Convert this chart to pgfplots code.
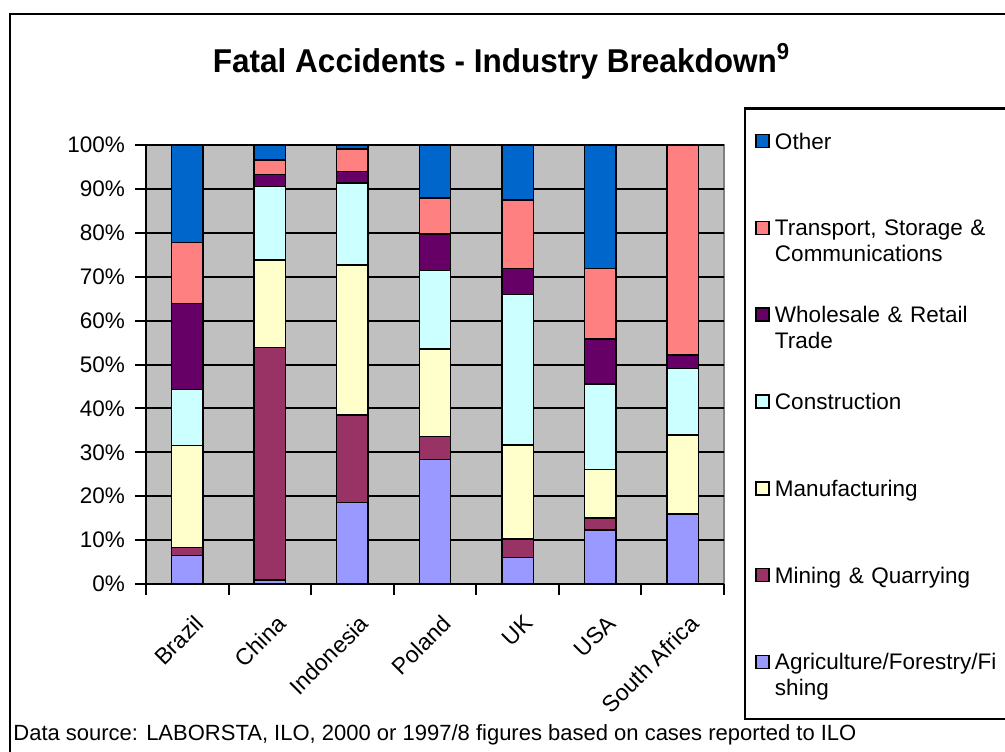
\documentclass[border=0pt]{standalone}
\usepackage{fontspec}
\setmainfont{Liberation Sans}
\usepackage{graphicx}
\usepackage{pgfplots}
\pgfplotsset{compat=1.18}
\usepackage{pgfplotstable}

\definecolor{agri}{HTML}{9999FF}
\definecolor{mining}{HTML}{993366}
\definecolor{manuf}{HTML}{FFFFCC}
\definecolor{constr}{HTML}{CCFFFF}
\definecolor{whole}{HTML}{660066}
\definecolor{transp}{HTML}{FF8080}
\definecolor{other}{HTML}{0066CC}
\definecolor{plotbg}{HTML}{C0C0C0}

% share of fatal accidents (%), bottom to top of each bar
\pgfplotstableread{
x agri mining manuf constr whole transp other
0 6.5  1.8  23.2 12.8 19.6 13.9 22.2
1 0.9  53.0 19.9 16.7 2.8  3.3  3.4
2 18.6 19.9 34.2 18.6 2.7  5.1  0.9
3 28.4 5.2  19.9 17.9 8.3  8.2  12.1
4 6.0  4.2  21.5 34.3 5.9  15.6 12.5
5 12.3 2.7  11.1 19.5 10.2 16.1 28.1
6 15.9 0.0  18.0 15.2 3.1  47.8 0.0
}\data

\pgfplotsset{bars/.style={fill=#1, draw=black, line width=0.75pt}}

\begin{document}
\begin{tikzpicture}
\begin{axis}[
  at={(73pt,-292pt)}, anchor=south west,
  scale only axis, width=289pt, height=219.5pt,
  ybar stacked, bar width=0.38,
  xmin=-0.5, xmax=6.5, ymin=0, ymax=100,
  axis x line*=bottom, axis y line*=left,
  axis line style={line width=1pt, black},
  axis background/.style={fill=plotbg, draw=gray, line width=0.6pt},
  ytick={0,10,...,100},
  yticklabel={\pgfmathprintnumber{\tick}\%},
  yticklabel style={xshift=-1.5pt},
  /pgf/number format/assume math mode=true,
  ymajorgrids, grid style={black, line width=1pt},
  tick align=outside, major tick length=5.5pt,
  tick style={black, line width=1pt},
  tick label style={font=\fontsize{11.25pt}{13pt}\selectfont},
  xtick={-0.5,0.5,...,6.5}, xticklabel=\empty,
  extra x ticks={0,1,2,3,4,5,6},
  extra x tick labels={Brazil,China,Indonesia,Poland,UK,USA,South Africa},
  extra x tick style={major tick length=0pt,
    xticklabel style={rotate=45, anchor=north east, yshift=-9pt, xshift=-5pt,
      font=\fontsize{11.5pt}{13pt}\selectfont}},
  legend style={at={(1.0536,1.028)}, anchor=north west, draw=none, fill=none,
    inner sep=0pt, row sep=0pt, column sep=2.5pt,
    font=\fontsize{11.25pt}{13pt}\selectfont,
    nodes={inner sep=0pt, text height=8pt, text depth=35.4pt, text width=120pt},
    cells={anchor=base west}},
  reverse legend,
  legend image code/.code={\draw[#1, line width=0.8pt] (0pt,0.75pt) rectangle (6.5pt,7.25pt);},
]
\addplot[bars=agri] table[x=x, y=agri] {\data};
\addlegendentry{Agriculture/Forestry/Fi\\shing}
\addplot[bars=mining] table[x=x, y=mining] {\data};
\addlegendentry{Mining \& Quarrying}
\addplot[bars=manuf] table[x=x, y=manuf] {\data};
\addlegendentry{Manufacturing}
\addplot[bars=constr] table[x=x, y=constr] {\data};
\addlegendentry{Construction}
\addplot[bars=whole] table[x=x, y=whole] {\data};
\addlegendentry{Wholesale \& Retail\\Trade}
\addplot[bars=transp] table[x=x, y=transp] {\data};
\addlegendentry{Transport, Storage \&\\Communications}
\addplot[bars=other] table[x=x, y=other] {\data};
\addlegendentry{Other}
\end{axis}

\begin{scope}[x=0.5pt, y=-0.5pt]
  \draw[line width=1.25pt] (10,14) rectangle (1300,1100);
  \draw[line width=1.3pt] (745,108.5) rectangle (1300,719);
  \node[anchor=base, inner sep=0pt, font=\bfseries\fontsize{16.5pt}{19pt}\selectfont]
    at (501.5,72) {\scalebox{0.955}[1]{Fatal Accidents - Industry Breakdown\textsuperscript{9}}};
  \node[anchor=base west, inner sep=0pt, font=\fontsize{11pt}{13pt}\selectfont]
    at (13,740) {Data source: LABORSTA, ILO, 2000 or 1997/8 figures based on cases reported to ILO};
\end{scope}
\pgfresetboundingbox
\useasboundingbox (0pt,0pt) rectangle (502.5pt,-375.5pt);
\end{tikzpicture}
\end{document}
